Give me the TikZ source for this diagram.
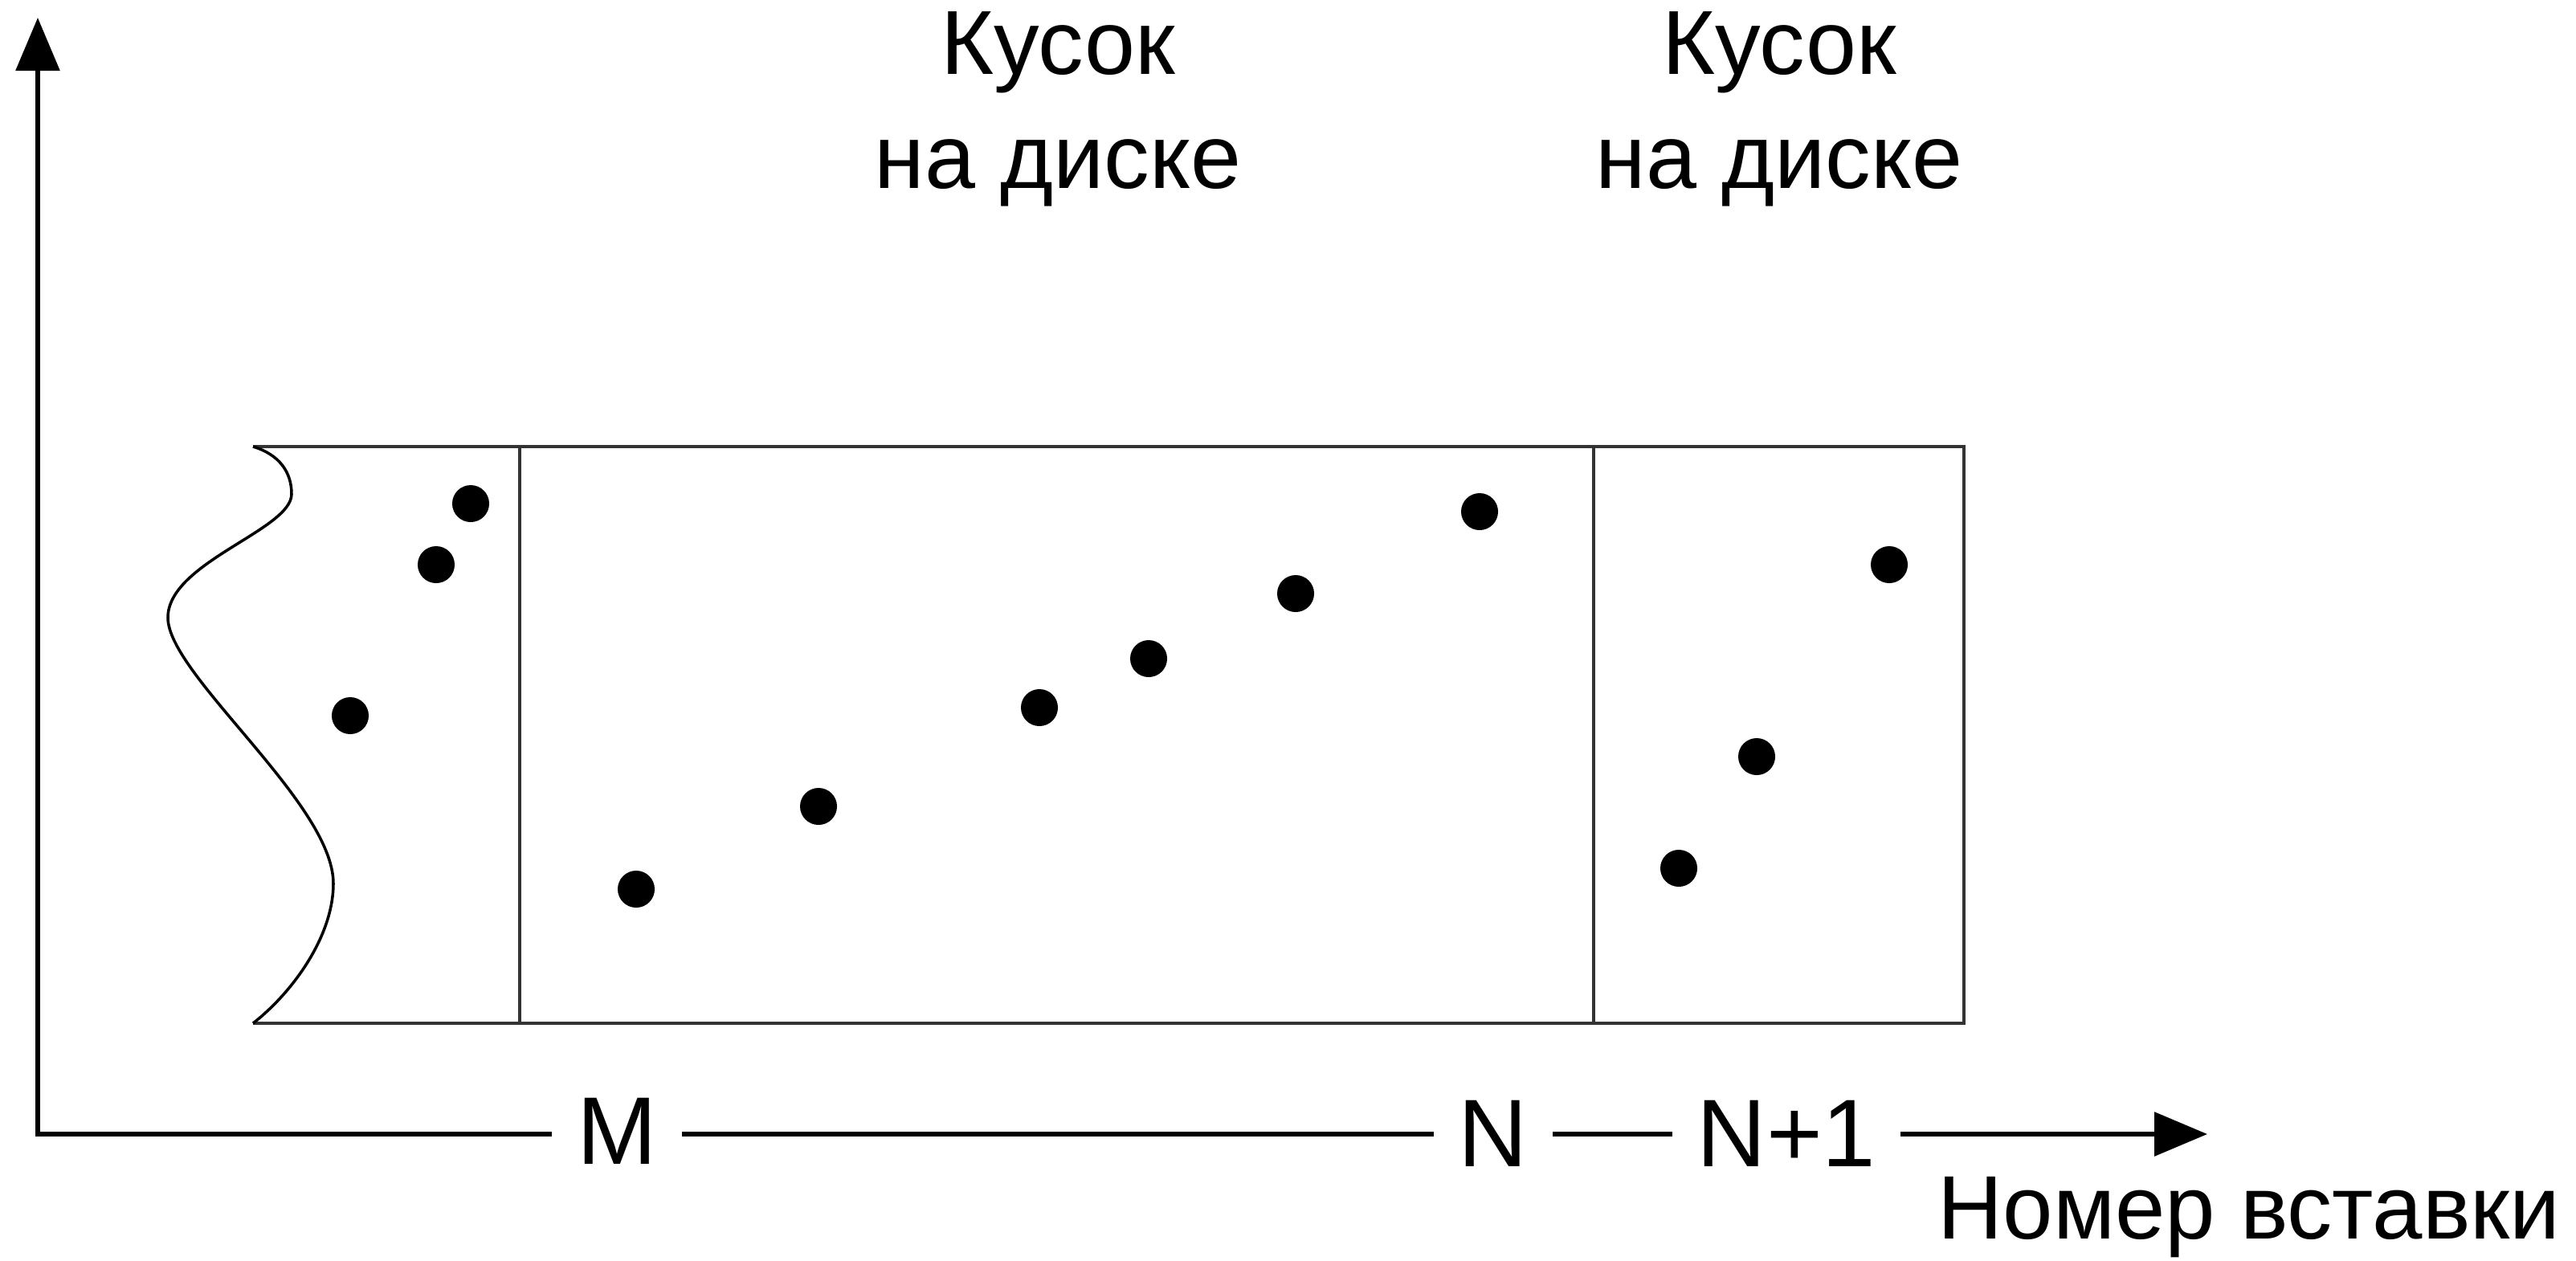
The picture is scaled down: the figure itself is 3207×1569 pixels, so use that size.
\documentclass[tikz,border=0pt]{standalone}
\usepackage{fontspec}
\setmainfont{Liberation Sans}
\usetikzlibrary{arrows.meta}
\begin{document}
\begin{tikzpicture}[x=0.01cm,y=-0.01cm,
  axis/.style={line width=1.7pt, line cap=rect, -{Triangle[length=0.66cm,width=0.54cm]}},
  frame/.style={line width=1.3pt, black!80},
  wave/.style={line width=1pt},
  dot/.style={fill=black},
  tick/.style={fill=white, inner xsep=0.31cm, inner ysep=0.1cm, anchor=base,
    font=\fontsize{34}{40}\selectfont},
  chunk/.style={align=center, anchor=north, inner sep=0pt,
    font=\fontsize{32.2}{40.4}\selectfont},
]
\useasboundingbox (0,0) rectangle (3207,1569);

% axes
\coordinate (O) at (47,1412);
\coordinate (ytip) at (47,22);
\coordinate (xtip) at (2748,1412);
\draw[axis] (O) -- (ytip);
\draw[axis] (O) -- (xtip);

% insertion numbers on the horizontal axis
\node[tick] (m) at (768,1449) {M};
\node[tick] (n) at (1859,1452) {N};
\node[tick] (n1) at (2224,1452) {N+1};
\node[anchor=base west, inner sep=0pt, font=\fontsize{31.9}{38}\selectfont]
  (xlabel) at (2412,1542) {Номер вставки};

% chunk captions
\node[chunk] (c1) at (1317,14) {Кусок\\на диске};
\node[chunk] (c2) at (2215,14) {Кусок\\на диске};

% data range with a torn left edge
\coordinate (tl) at (315,556);
\coordinate (bl) at (315,1274);
\coordinate (tr) at (2445,556);
\coordinate (br) at (2445,1274);
\draw[frame] (tl) -- (tr) -- (br) -- (bl);
\draw[wave] (tl) .. controls (348,566) and (363,588) .. (363,615)
  .. controls (363,660) and (209,700) .. (209,769)
  .. controls (209,840) and (415,1000) .. (415,1100)
  .. controls (415,1165) and (365,1235) .. (bl);

% chunk borders
\draw[frame] (647,556) -- (647,1274);
\draw[frame] (1984,556) -- (1984,1274);

% inserted rows
\foreach \p in {(586,627),(543,703),(436,891),
                (792,1107),(1019,1004),(1294,881),(1430,820),(1613,739),(1842,637),
                (2090,1081),(2187,942),(2352,703)}
  \fill[dot] \p circle[radius=0.23cm];
\end{tikzpicture}
\end{document}
